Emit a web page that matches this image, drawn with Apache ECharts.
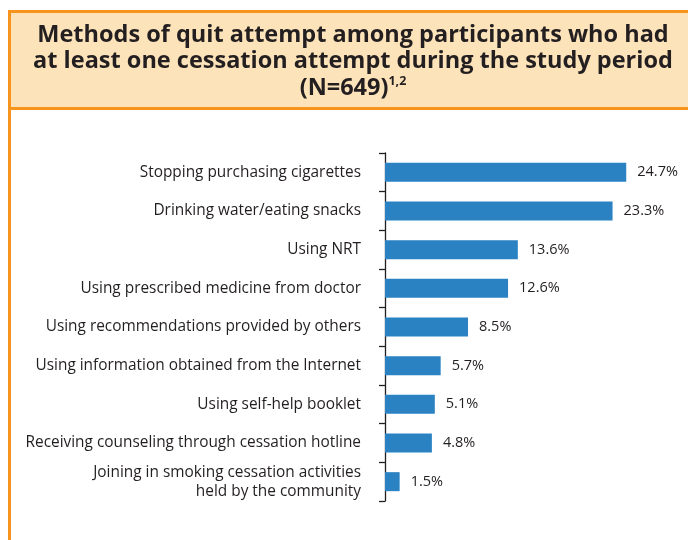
<!DOCTYPE html>
<html>
<head>
<meta charset="utf-8">
<script src="https://cdn.jsdelivr.net/npm/echarts@6/dist/echarts.min.js"></script>
<style>
  html, body { margin: 0; padding: 0; background: #ffffff; }
  #chart { width: 688px; height: 540px; }
</style>
</head>
<body>
<div id="chart"></div>
<script>
// Quit-attempt methods (percent of participants, N=649)
const methods = [
  'Stopping purchasing cigarettes',
  'Drinking water/eating snacks',
  'Using NRT',
  'Using prescribed medicine from doctor',
  'Using recommendations provided by others',
  'Using information obtained from the Internet',
  'Using self-help booklet',
  'Receiving counseling through cessation hotline',
  'Joining in smoking cessation activities\nheld by the community'
];
const percents = [24.7, 23.3, 13.6, 12.6, 8.5, 5.7, 5.1, 4.8, 1.5];

const INK = '#231f20';
const ORANGE = '#f7941d';
const PEACH = '#fde3b9';
const BLUE = '#2a82c3';

const chart = echarts.init(document.getElementById('chart'), null, { renderer: 'canvas' });

chart.setOption({
  backgroundColor: '#ffffff',
  animation: false,
  graphic: [
    {
      type: 'rect', z: 0,
      shape: { x: 9.5, y: 11.5, width: 700, height: 97 },
      style: { fill: PEACH, stroke: ORANGE, lineWidth: 3 }
    },
    {
      type: 'line', z: 0,
      shape: { x1: 9.5, y1: 108, x2: 9.5, y2: 545 },
      style: { stroke: ORANGE, lineWidth: 3 }
    }
  ],
  title: {
    text: 'Methods of quit attempt among participants who had\nat least one cessation attempt during the study period\n(N=649){sup|1,2}',
    left: 348,
    top: 17,
    textAlign: 'center',
    textStyle: {
      fontFamily: 'Open Sans',
      fontWeight: 'bold',
      fontSize: 23.5,
      lineHeight: 26.5,
      color: INK,
      rich: {
        sup: {
          fontFamily: 'Open Sans',
          fontWeight: 'bold',
          fontSize: 12.5,
          lineHeight: 26.5,
          color: INK,
          verticalAlign: 'top',
          padding: [0, 0, 14, 0]
        }
      }
    }
  },
  grid: { left: 385, top: 153, width: 293, height: 348 },
  xAxis: {
    type: 'value',
    min: 0,
    max: 30,
    show: false
  },
  yAxis: {
    type: 'category',
    data: methods,
    inverse: true,
    axisLine: { show: true, lineStyle: { color: INK, width: 1.3 } },
    axisTick: { show: true, length: 6, lineStyle: { color: INK, width: 1.3 } },
    axisLabel: {
      margin: 24,
      fontFamily: 'Open Sans',
      fontSize: 15.4,
      lineHeight: 19,
      color: INK,
      align: 'right'
    },
    splitLine: { show: false }
  },
  series: [{
    type: 'bar',
    data: percents,
    barWidth: 19,
    itemStyle: { color: BLUE },
    label: {
      show: true,
      position: 'right',
      distance: 11,
      formatter: '{c}%',
      fontFamily: 'Open Sans',
      fontSize: 14.5,
      color: INK
    }
  }]
});
</script>
</body>
</html>
